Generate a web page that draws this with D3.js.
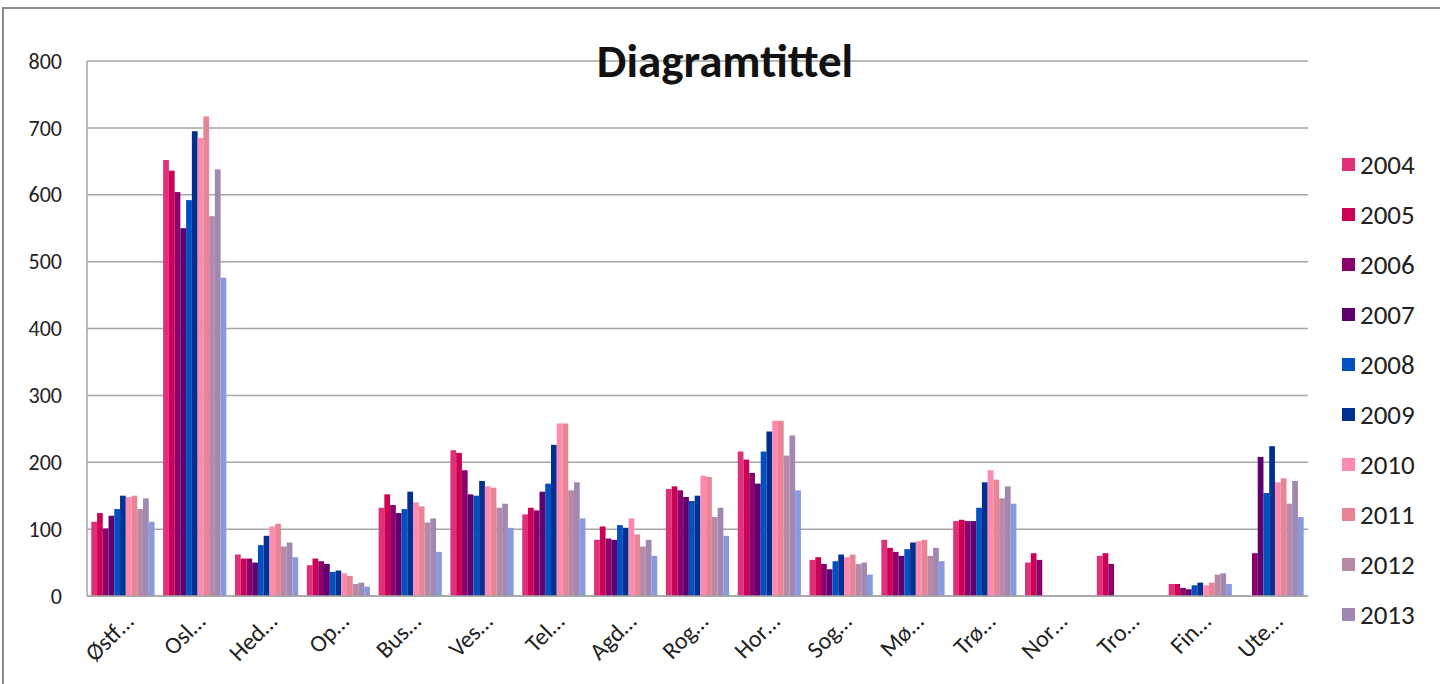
<!DOCTYPE html>
<html>
<head>
    <meta charset="utf-8">
    <style>
        body { margin: 0; background: white; }
        svg { display: block; font-family: Carlito, Calibri, Lato, 'Open Sans', sans-serif; }
        .grid line { stroke: #a6a6a6; stroke-width: 1.5; }
        .tick-label { font-size: 22px; fill: #222; }
        .cat-label { font-size: 24px; fill: #222; }
    </style>
</head>
<body>
    <svg width="1440" height="684"></svg>

<script src="https://d3js.org/d3.v7.min.js"></script>
<script>
    // categories (truncated labels as shown)
    let categories = ["Østf…", "Osl…", "Hed…", "Op…", "Bus…", "Ves…", "Tel…", "Agd…", "Rog…",
        "Hor…", "Sog…", "Mø…", "Trø…", "Nor…", "Tro…", "Fin…", "Ute…"]
    let years = ["2004", "2005", "2006", "2007", "2008", "2009", "2010", "2011", "2012", "2013", "2014"]
    let legendYears = ["2004", "2005", "2006", "2007", "2008", "2009", "2010", "2011", "2012", "2013"]
    let colors = ["#e0307a", "#cc0055", "#8b006b", "#5e0070", "#0050c0", "#003090",
        "#ff8ab0", "#e88494", "#b888a8", "#a088b0", "#8899dd"]
    let yTicks = [0, 100, 200, 300, 400, 500, 600, 700, 800]

    // one array per category, values per year 2004..2014 (null = no bar)
    let ostfold    = [111, 124, 101, 120, 130, 150, 148, 150, 130, 146, 111]
    let oslo       = [652, 636, 604, 550, 592, 695, 685, 717, 568, 638, 476]
    let hedmark    = [62, 56, 56, 50, 76, 90, 104, 108, 74, 80, 58]
    let oppland    = [46, 56, 52, 48, 36, 38, 34, 30, 18, 20, 14]
    let buskerud   = [132, 152, 136, 124, 130, 156, 140, 134, 110, 116, 66]
    let vestfold   = [218, 214, 188, 152, 150, 172, 164, 162, 132, 138, 102]
    let telemark   = [122, 132, 128, 156, 168, 226, 258, 258, 158, 170, 116]
    let agder      = [84, 104, 86, 84, 106, 102, 116, 92, 74, 84, 60]
    let rogaland   = [160, 164, 158, 148, 142, 150, 180, 178, 118, 132, 90]
    let hordaland  = [216, 204, 184, 168, 216, 246, 262, 262, 210, 240, 158]
    let sogn       = [54, 58, 48, 40, 52, 62, 58, 62, 48, 50, 32]
    let more       = [84, 72, 66, 60, 70, 80, 82, 84, 60, 72, 52]
    let trondelag  = [112, 114, 112, 112, 132, 170, 188, 174, 146, 164, 138]
    let nordland   = [50, 64, 54, null, null, null, null, null, null, null, null]
    let troms      = [60, 64, 48, null, null, null, null, null, null, null, null]
    let finnmark   = [18, 18, 12, 10, 16, 20, 16, 20, 32, 34, 18]
    let utenlands  = [null, null, 64, 208, 154, 224, 170, 176, 138, 172, 118]

    let values = [ostfold, oslo, hedmark, oppland, buskerud, vestfold, telemark, agder, rogaland,
        hordaland, sogn, more, trondelag, nordland, troms, finnmark, utenlands]

    let svg = d3.select("svg")

    // chart frame
    svg.append("rect")
        .attr("x", 3).attr("y", 8)
        .attr("width", 1450).attr("height", 700)
        .attr("fill", "white")
        .attr("stroke", "#8c8c8c")
        .attr("stroke-width", 2)

    let plotLeft = 87, plotRight = 1308, plotTop = 61, plotBottom = 596

    let x = d3.scaleBand()
        .domain(categories)
        .range([plotLeft, plotRight])
        .paddingInner(0.12)
        .paddingOuter(0.06)

    let x1 = d3.scaleBand()
        .domain(years)
        .range([0, x.bandwidth()])

    let y = d3.scaleLinear()
        .domain([0, 800])
        .range([plotBottom, plotTop])

    // gridlines
    svg.append("g")
        .attr("class", "grid")
        .selectAll("line")
        .data(yTicks)
        .join("line")
        .attr("x1", plotLeft).attr("x2", plotRight)
        .attr("y1", d => y(d)).attr("y2", d => y(d))

    // y axis line
    svg.append("line")
        .attr("x1", plotLeft).attr("x2", plotLeft)
        .attr("y1", plotTop).attr("y2", plotBottom)
        .attr("stroke", "#a6a6a6").attr("stroke-width", 1.5)

    svg.append("g")
        .selectAll("text")
        .data(yTicks)
        .join("text")
        .attr("class", "tick-label")
        .attr("x", 62)
        .attr("y", d => y(d))
        .attr("dy", "0.35em")
        .attr("text-anchor", "end")
        .text(d => d)

    // bars
    let groups = svg.append("g")
        .selectAll("g")
        .data(categories)
        .join("g")
        .attr("transform", d => `translate(${x(d)},0)`)

    groups.selectAll("rect")
        .data((d, i) => years.map((yr, j) => ({ year: yr, value: values[i][j], color: colors[j] }))
            .filter(b => b.value != null))
        .join("rect")
        .attr("x", d => x1(d.year))
        .attr("width", x1.bandwidth())
        .attr("y", d => y(d.value))
        .attr("height", d => plotBottom - y(d.value))
        .attr("fill", d => d.color)

    // baseline on top of bars
    svg.append("line")
        .attr("x1", plotLeft).attr("x2", plotRight)
        .attr("y1", plotBottom).attr("y2", plotBottom)
        .attr("stroke", "#a6a6a6").attr("stroke-width", 1.5)

    // category labels, rotated
    svg.append("g")
        .selectAll("text")
        .data(categories)
        .join("text")
        .attr("class", "cat-label")
        .attr("text-anchor", "end")
        .attr("transform", d => `translate(${x(d) + x.bandwidth() / 2 + 6},${617}) rotate(-45)`)
        .attr("dy", "0.35em")
        .text(d => d)

    // title
    svg.append("text")
        .attr("x", 725)
        .attr("y", 77)
        .attr("text-anchor", "middle")
        .attr("font-size", 47)
        .attr("font-weight", "bold")
        .attr("fill", "#111")
        .text("Diagramtittel")

    // legend
    let legend = svg.append("g")
        .selectAll("g")
        .data(legendYears)
        .join("g")
        .attr("transform", (d, i) => `translate(1342,${165 + i * 50})`)

    legend.append("rect")
        .attr("x", 0).attr("y", -7)
        .attr("width", 13).attr("height", 13)
        .attr("fill", (d, i) => colors[i])

    legend.append("text")
        .attr("x", 18)
        .attr("dy", "0.35em")
        .attr("font-size", 27)
        .attr("fill", "#222")
        .text(d => d)
</script>
</body>
</html>
